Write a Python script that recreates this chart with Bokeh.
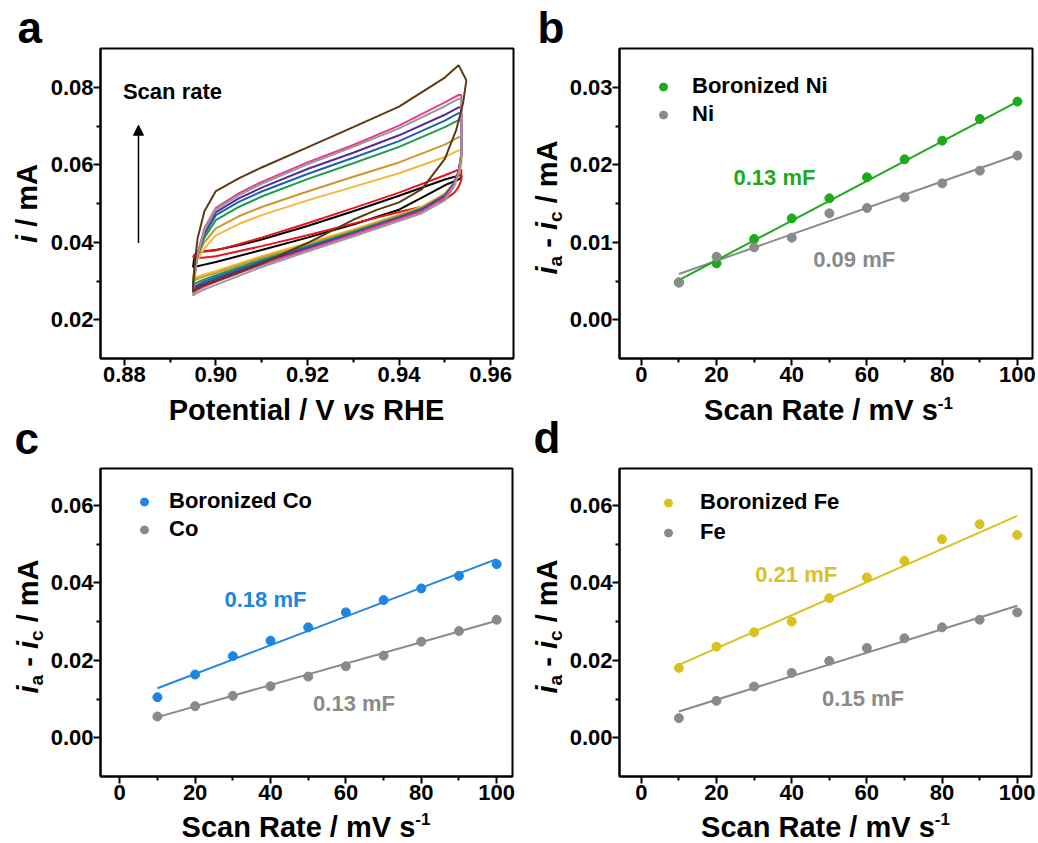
import numpy as np
from bokeh.plotting import figure
from bokeh.layouts import column, row
from bokeh.models import (Label, Arrow, NormalHead, FixedTicker, PrintfTickFormatter,
                          Legend, LegendItem, Range1d)
from bokeh.embed import file_html
from bokeh.resources import INLINE

FONT = "Liberation Sans"

# ---------------- Panel a : CV curves (potential V vs RHE, current mA) ----------------
cv_x_anodic = [0.8950, 0.8953, 0.8960, 0.8975, 0.9000, 0.9050, 0.9100, 0.9200, 0.9300, 0.9400, 0.9500, 0.9530]
cv_x_cathodic = [0.9536, 0.9536, 0.9530, 0.9520, 0.9500, 0.9450, 0.9400, 0.9300, 0.9200, 0.9100, 0.9000, 0.8970, 0.8955, 0.8950]
brown_x_cathodic = [0.9547, 0.9540, 0.9525, 0.9500, 0.9450, 0.9400, 0.9350, 0.9300, 0.9200, 0.9100, 0.9000, 0.8970, 0.8955, 0.8950]

black_up = [0.0335, 0.0362, 0.0372, 0.0377, 0.0380, 0.0392, 0.0407, 0.0442, 0.0480, 0.0520, 0.0562, 0.0572]
black_down = [0.0572, 0.0566, 0.0562, 0.0557, 0.0547, 0.0515, 0.0484, 0.0446, 0.0412, 0.0380, 0.0349, 0.0341, 0.0337, 0.0335]
red_up = [0.0360, 0.0368, 0.0373, 0.0376, 0.0379, 0.0395, 0.0412, 0.0449, 0.0488, 0.0528, 0.0573, 0.0587]
red_down = [0.0587, 0.0560, 0.0542, 0.0527, 0.0510, 0.0492, 0.0478, 0.0448, 0.0418, 0.0390, 0.0364, 0.0360, 0.0360, 0.0360]
yellow_up = [0.0305, 0.0330, 0.0356, 0.0384, 0.0418, 0.0447, 0.0470, 0.0508, 0.0543, 0.0578, 0.0620, 0.0637]
yellow_down = [0.0637, 0.0600, 0.0575, 0.0552, 0.0525, 0.0492, 0.0471, 0.0433, 0.0398, 0.0364, 0.0326, 0.0315, 0.0308, 0.0305]
gold_up = [0.0300, 0.0330, 0.0364, 0.0400, 0.0436, 0.0467, 0.0491, 0.0531, 0.0569, 0.0606, 0.0652, 0.0671]
gold_down = [0.0671, 0.0610, 0.0580, 0.0553, 0.0524, 0.0490, 0.0469, 0.0430, 0.0394, 0.0360, 0.0321, 0.0310, 0.0303, 0.0300]
green_up = [0.0290, 0.0324, 0.0367, 0.0412, 0.0457, 0.0491, 0.0518, 0.0563, 0.0604, 0.0646, 0.0697, 0.0715]
green_down = [0.0715, 0.0620, 0.0582, 0.0552, 0.0522, 0.0487, 0.0466, 0.0427, 0.0390, 0.0355, 0.0315, 0.0302, 0.0294, 0.0290]
blue_up = [0.0283, 0.0319, 0.0369, 0.0421, 0.0470, 0.0504, 0.0531, 0.0576, 0.0618, 0.0661, 0.0714, 0.0733]
blue_down = [0.0733, 0.0625, 0.0582, 0.0551, 0.0520, 0.0485, 0.0464, 0.0424, 0.0387, 0.0351, 0.0310, 0.0296, 0.0287, 0.0283]
purple_up = [0.0278, 0.0316, 0.0371, 0.0428, 0.0478, 0.0513, 0.0541, 0.0589, 0.0631, 0.0676, 0.0729, 0.0748]
purple_down = [0.0748, 0.0628, 0.0582, 0.0550, 0.0518, 0.0483, 0.0462, 0.0422, 0.0384, 0.0347, 0.0305, 0.0291, 0.0282, 0.0278]
gray_up = [0.0262, 0.0301, 0.0366, 0.0431, 0.0485, 0.0521, 0.0551, 0.0601, 0.0646, 0.0694, 0.0751, 0.0770]
gray_down = [0.0770, 0.0622, 0.0575, 0.0543, 0.0508, 0.0475, 0.0455, 0.0415, 0.0376, 0.0336, 0.0290, 0.0276, 0.0267, 0.0262]
magenta_up = [0.0268, 0.0306, 0.0371, 0.0436, 0.0489, 0.0526, 0.0556, 0.0606, 0.0651, 0.0701, 0.0761, 0.0780]
magenta_down = [0.0780, 0.0628, 0.0580, 0.0549, 0.0515, 0.0480, 0.0460, 0.0420, 0.0381, 0.0342, 0.0298, 0.0283, 0.0273, 0.0268]
brown_up = [0.0272, 0.0335, 0.0410, 0.0480, 0.0532, 0.0565, 0.0593, 0.0645, 0.0697, 0.0750, 0.0825, 0.0857]
brown_down = [0.0818, 0.0760, 0.0690, 0.0615, 0.0537, 0.0503, 0.0483, 0.0458, 0.0398, 0.0345, 0.0300, 0.0287, 0.0278, 0.0272]

cv_curves = [
    ("#000000", black_up, black_down, cv_x_cathodic),
    ("#E8161B", red_up, red_down, cv_x_cathodic),
    ("#F4B93A", yellow_up, yellow_down, cv_x_cathodic),
    ("#C9982D", gold_up, gold_down, cv_x_cathodic),
    ("#1E9C4A", green_up, green_down, cv_x_cathodic),
    ("#1D63A8", blue_up, blue_down, cv_x_cathodic),
    ("#5A2A9A", purple_up, purple_down, cv_x_cathodic),
    ("#E83D8F", magenta_up, magenta_down, cv_x_cathodic),
    ("#9A9A9A", gray_up, gray_down, cv_x_cathodic),
    ("#5C3A12", brown_up, brown_down, brown_x_cathodic),
]

# ---------------- Panels b-d : capacitive current vs scan rate ----------------
scan_rate = [10, 20, 30, 40, 50, 60, 70, 80, 90, 100]
ni_boronized = [0.00482, 0.00727, 0.01042, 0.01308, 0.01567, 0.01838, 0.02070, 0.02311, 0.02591, 0.02815]
ni_plain = [0.00480, 0.00813, 0.00934, 0.01059, 0.01373, 0.01442, 0.01580, 0.01760, 0.01924, 0.02118]
co_boronized = [0.01047, 0.01631, 0.02107, 0.02506, 0.02850, 0.03236, 0.03554, 0.03854, 0.04180, 0.04481]
co_plain = [0.00549, 0.00815, 0.01082, 0.01330, 0.01579, 0.01845, 0.02120, 0.02481, 0.02755, 0.03047]
fe_boronized = [0.01803, 0.02352, 0.02721, 0.02996, 0.03605, 0.04137, 0.04567, 0.05124, 0.05511, 0.05236]
fe_plain = [0.00506, 0.00953, 0.01322, 0.01674, 0.01983, 0.02318, 0.02567, 0.02850, 0.03047, 0.03236]

fit_x = [10, 100]
ni_boronized_fit = [0.00512, 0.02815]
ni_plain_fit = [0.00590, 0.02126]
co_boronized_fit = [0.01279, 0.04610]
co_plain_fit = [0.00532, 0.03020]
fe_boronized_fit = [0.01880, 0.05725]
fe_plain_fit = [0.00678, 0.03408]

GREEN = "#1DAA1D"
GRAY = "#8A8A8A"
BLUE = "#1F86E0"
YELLOW = "#D9C21E"

EM = {'i': 0.278, 'a': 0.556, 'c': 0.556, ' ': 0.278, '-': 0.333, '/': 0.278, 'm': 0.889,
      'A': 0.722, 'S': 0.667, 'n': 0.611, 'R': 0.722, 't': 0.333, 'e': 0.556, 'V': 0.667,
      's': 0.556, '1': 0.556, 'P': 0.667, 'o': 0.611, 'l': 0.278, 'v': 0.556, 'H': 0.722, 'E': 0.667}

PANEL_W = 519
STRIP_W = 47
MID = 0.35   # distance from text box middle to alphabetic baseline, in em


def tw(s, size):
    return sum(EM.get(c, 0.556) for c in s) * size


def txt(p, x, y, text, size, style, color="black", angle=0.0):
    """x, y: screen position of the START of the text on its BASELINE (frame coords, y up)."""
    if angle:
        x = x - MID * size
    else:
        y = y + MID * size
    p.add_layout(Label(x=x, y=y, x_units="screen", y_units="screen", text=text, angle=angle,
                       text_font=FONT, text_font_size=f"{size}px", text_font_style=style,
                       text_color=color, text_align="left", text_baseline="middle"))


def data_txt(p, x, y, text, color):
    p.add_layout(Label(x=x, y=y, text=text, text_font=FONT, text_font_size="22px",
                       text_font_style="bold", text_color=color,
                       text_align="left", text_baseline="middle"))


def rich(p, pieces, center, base, vertical):
    total = sum(tw(t, s) for t, s, _, _ in pieces)
    pos = center - total / 2
    for t, s, style, shift in pieces:
        lead = len(t) - len(t.lstrip(' '))
        core = t.strip(' ')
        start = pos + tw(' ' * lead, s)
        if vertical:
            txt(p, base + shift, start, core, s, style, angle=np.pi / 2)
        else:
            txt(p, start, base + shift, core, s, style)
        pos += tw(t, s)


def strip_fig(w, h):
    p = figure(width=w, height=h, x_range=Range1d(0, 1), y_range=Range1d(0, 1),
               output_backend="svg", toolbar_location=None, title=None,
               x_axis_location=None, y_axis_location=None,
               min_border_left=0, min_border_right=0, min_border_top=0, min_border_bottom=0)
    p.outline_line_color = None
    p.grid.visible = False
    p.background_fill_color = "white"
    p.border_fill_color = "white"
    return p


def make_fig(xr, yr, frame_left, fw, fh, top, bottom):
    W = PANEL_W - STRIP_W
    bl = frame_left - STRIP_W
    p = figure(width=W, height=top + fh + bottom, x_range=Range1d(*xr), y_range=Range1d(*yr),
               output_backend="svg", toolbar_location=None, title=None,
               min_border_left=bl, min_border_right=W - bl - fw,
               min_border_top=top, min_border_bottom=bottom)
    p.grid.visible = False
    p.outline_line_color = "black"
    p.outline_line_width = 2
    p.outline_line_alpha = 1
    p.background_fill_color = "white"
    p.border_fill_color = "white"
    for ax in (p.xaxis[0], p.yaxis[0]):
        ax.axis_line_width = 2
        ax.axis_line_color = "black"
        ax.major_tick_line_width = 2
        ax.minor_tick_line_width = 2
        ax.major_tick_out = 7
        ax.major_tick_in = 0
        ax.minor_tick_out = 4
        ax.minor_tick_in = 0
        ax.major_label_text_font = FONT
        ax.major_label_text_font_style = "bold"
        ax.major_label_text_font_size = "22px"
        ax.major_label_text_color = "black"
        ax.axis_label = None
    p.xaxis[0].major_label_standoff = 1
    p.yaxis[0].major_label_standoff = 0
    return p


def add_legend(p, items, loc, standoff, spacing):
    leg = Legend(items=items, location=loc, padding=0, margin=0, spacing=spacing,
                 glyph_width=20, glyph_height=25, label_height=25, label_standoff=standoff,
                 label_text_font=FONT, label_text_font_size="22px", label_text_font_style="bold",
                 label_text_color="black", border_line_alpha=0, background_fill_alpha=0)
    p.add_layout(leg)


IA_IC = [("i", 29, "bold italic", 0), ("a", 19, "bold", 5), (" - ", 29, "bold", 0),
         ("i", 29, "bold italic", 0), ("c", 19, "bold", 5), (" / mA", 29, "bold", 0)]
I_MA = [("i", 29, "bold italic", 0), (" / mA", 29, "bold", 0)]
POT_TITLE = [("Potential / V ", 29, "bold", 0), ("vs", 29, "bold italic", 0), (" RHE", 29, "bold", 0)]
SCAN_TITLE = [("Scan Rate / mV s", 29, "bold", 0), ("-1", 17, "bold", 12)]


def y_strip(height, bottom, fh, pieces, base, shift, letter=None, letter_x=0, letter_base=0):
    ys = strip_fig(STRIP_W, height)
    rich(ys, pieces, bottom + fh / 2 + shift, base, True)
    if letter:
        txt(ys, letter_x, height - letter_base, letter, 44, "bold")
    return column(ys, spacing=0)


# ---------------- geometry ----------------
TOP1, FH1, BOT1 = 48, 310, 35      # row of panels a, b : frame 48..358, figure 0..393
TOP2, FH2, BOT2 = 1, 308, 34       # row of panels c, d : frame 468..776, figure 467..810
ROW1_H = TOP1 + FH1 + BOT1          # 393
MID_H = 74                          # 393..467
ROW2_H = TOP2 + FH2 + BOT2          # 343 -> 810
BOTTOM_H = 33                       # 810..843

# ---------------- Panel a ----------------
pa = make_fig((0.8748, 0.965), (0.01, 0.09), 99, 414, FH1, TOP1, BOT1)
pa.xaxis[0].ticker = FixedTicker(ticks=[0.88, 0.90, 0.92, 0.94, 0.96], minor_ticks=[0.89, 0.91, 0.93, 0.95])
pa.yaxis[0].ticker = FixedTicker(ticks=[0.02, 0.04, 0.06, 0.08], minor_ticks=[0.03, 0.05, 0.07])
pa.xaxis[0].formatter = PrintfTickFormatter(format="%.2f")
pa.yaxis[0].formatter = PrintfTickFormatter(format="%.2f")
for color, up, down, xc in cv_curves:
    xs_ = list(cv_x_anodic) + list(xc)
    ys_ = list(up) + list(down)
    pa.line(xs_, ys_, line_color=color, line_width=2)
pa.add_layout(Arrow(end=NormalHead(size=10, fill_color="black", line_color="black"),
                    x_start=0.8831, y_start=0.0398, x_end=0.8831, y_end=0.0702,
                    line_width=1.5, line_color="black"))
data_txt(pa, 0.8797, 0.0788, "Scan rate", "black")

# ---------------- Panel b ----------------
pb = make_fig((-5.8, 104.0), (-0.005, 0.035), 100, 413, FH1, TOP1, BOT1)
pb.xaxis[0].ticker = FixedTicker(ticks=[0, 20, 40, 60, 80, 100], minor_ticks=[10, 30, 50, 70, 90])
pb.yaxis[0].ticker = FixedTicker(ticks=[0.00, 0.01, 0.02, 0.03], minor_ticks=[0.005, 0.015, 0.025])
pb.xaxis[0].formatter = PrintfTickFormatter(format="%d")
pb.yaxis[0].formatter = PrintfTickFormatter(format="%.2f")
pb.line(fit_x, ni_plain_fit, line_color=GRAY, line_width=2)
pb.line(fit_x, ni_boronized_fit, line_color=GREEN, line_width=2)
rb1 = pb.scatter(scan_rate, ni_boronized, size=9, color=GREEN)
rb2 = pb.scatter(scan_rate, ni_plain, size=9, color=GRAY)
data_txt(pb, 24.5, 0.0183, "0.13 mF", GREEN)
data_txt(pb, 45.7, 0.00771, "0.09 mF", GRAY)
add_legend(pb, [LegendItem(label="Boronized Ni", renderers=[rb1]), LegendItem(label="Ni", renderers=[rb2])],
           (34, 231), 19, 2)

# ---------------- Panel c ----------------
pc = make_fig((-5.1, 104.2), (-0.01, 0.0695), 99, 413, FH2, TOP2, BOT2)
pc.xaxis[0].ticker = FixedTicker(ticks=[0, 20, 40, 60, 80, 100], minor_ticks=[10, 30, 50, 70, 90])
pc.yaxis[0].ticker = FixedTicker(ticks=[0.00, 0.02, 0.04, 0.06], minor_ticks=[0.01, 0.03, 0.05])
pc.xaxis[0].formatter = PrintfTickFormatter(format="%d")
pc.yaxis[0].formatter = PrintfTickFormatter(format="%.2f")
pc.line(fit_x, co_plain_fit, line_color=GRAY, line_width=2)
pc.line(fit_x, co_boronized_fit, line_color=BLUE, line_width=2)
rc1 = pc.scatter(scan_rate, co_boronized, size=9, color=BLUE)
rc2 = pc.scatter(scan_rate, co_plain, size=9, color=GRAY)
data_txt(pc, 27.8, 0.0358, "0.18 mF", BLUE)
data_txt(pc, 51.3, 0.00876, "0.13 mF", GRAY)
add_legend(pc, [LegendItem(label="Boronized Co", renderers=[rc1]), LegendItem(label="Co", renderers=[rc2])],
           (34, 234), 15, 2)

# ---------------- Panel d ----------------
pd_ = make_fig((-5.8, 103.8), (-0.01, 0.0695), 100, 412, FH2, TOP2, BOT2)
pd_.xaxis[0].ticker = FixedTicker(ticks=[0, 20, 40, 60, 80, 100], minor_ticks=[10, 30, 50, 70, 90])
pd_.yaxis[0].ticker = FixedTicker(ticks=[0.00, 0.02, 0.04, 0.06], minor_ticks=[0.01, 0.03, 0.05])
pd_.xaxis[0].formatter = PrintfTickFormatter(format="%d")
pd_.yaxis[0].formatter = PrintfTickFormatter(format="%.2f")
pd_.line(fit_x, fe_plain_fit, line_color=GRAY, line_width=2)
pd_.line(fit_x, fe_boronized_fit, line_color=YELLOW, line_width=2)
rd1 = pd_.scatter(scan_rate, fe_boronized, size=9, color=YELLOW)
rd2 = pd_.scatter(scan_rate, fe_plain, size=9, color=GRAY)
data_txt(pd_, 30.3, 0.0421, "0.21 mF", YELLOW)
data_txt(pd_, 48.1, 0.01004, "0.15 mF", GRAY)
add_legend(pd_, [LegendItem(label="Boronized Fe", renderers=[rd1]), LegendItem(label="Fe", renderers=[rd2])],
           (39, 231), 22, 4)

# ---------------- title strips ----------------
ys_a = y_strip(ROW1_H, BOT1, FH1, I_MA, 37, 0, "a", 17, 42)
ys_b = y_strip(ROW1_H, BOT1, FH1, IA_IC, 38, -4, "b", 18, 42)
ys_c = y_strip(ROW2_H, BOT2, FH2, IA_IC, 38, -4)
ys_d = y_strip(ROW2_H, BOT2, FH2, IA_IC, 38, -4)

mid = strip_fig(2 * PANEL_W, MID_H)
rich(mid, POT_TITLE, 306, MID_H - (420 - ROW1_H), False)
rich(mid, SCAN_TITLE, PANEL_W + 309, MID_H - (420 - ROW1_H), False)
txt(mid, 14, MID_H - (453 - ROW1_H), "c", 44, "bold")
txt(mid, PANEL_W + 14, MID_H - (452 - ROW1_H), "d", 44, "bold")

bottom = strip_fig(2 * PANEL_W, BOTTOM_H)
rich(bottom, SCAN_TITLE, 305.5, 6.5, False)
rich(bottom, SCAN_TITLE, PANEL_W + 306, 6.5, False)

layout = column(
    row(ys_a, pa, ys_b, pb, spacing=0),
    mid,
    row(ys_c, pc, ys_d, pd_, spacing=0),
    bottom,
    spacing=0,
)
open("out.html", "w").write(file_html(layout, INLINE))
